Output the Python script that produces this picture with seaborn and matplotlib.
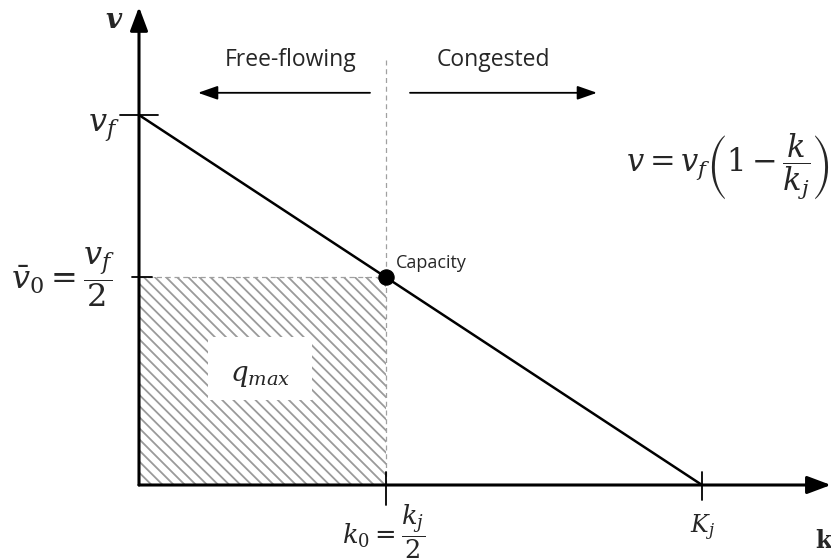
"""Greenshields speed-density diagram with capacity point."""
import matplotlib.pyplot as plt
import matplotlib.patches as mpatches
import numpy as np
import pandas as pd
import seaborn as sns

# speed-density line (normalised: k / K_j, v / v_f)
k_line = [0.0, 1.0]
v_line = [1.0, 0.0]
# capacity point
cap_k = [0.439]
cap_v = [0.561]
region_labels = ["Free-flowing", "Congested"]

sns.set_theme(style="white")
plt.rcParams["mathtext.fontset"] = "dejavuserif"
plt.rcParams["hatch.linewidth"] = 1.3
plt.rcParams["hatch.color"] = "#9a9a9a"

fig = plt.figure(figsize=(8.31, 5.6), dpi=100)
ax = fig.add_axes([0, 0, 1, 1])
px, py = 563.0, 370.0  # pixels per data unit
ax.set_xlim(-139 / px, (831 - 139) / px)
ax.set_ylim(-(560 - 485) / py, 485 / py)
ax.axis("off")

k0, v0 = cap_k[0], cap_v[0]
head = "-|>,head_width=0.45,head_length=1.2"

# hatched q_max box
ax.add_patch(mpatches.Rectangle((0, 0), k0, v0, facecolor="white",
                                edgecolor="#9a9a9a", hatch="\\\\\\", lw=0))
ax.add_patch(mpatches.Rectangle((0.122, 0.23), 0.186, 0.17,
                                facecolor="white", edgecolor="none", zorder=2))
ax.text(0.215, 0.297, r"$q_{max}$", ha="center", va="center", fontsize=20,
        zorder=3)

# dashed guides
ax.plot([k0, k0], [0, 1.157], ls=(0, (4, 3)), color="#a0a0a0", lw=0.9)
ax.plot([0, k0], [v0, v0], ls=(0, (4, 3)), color="#a0a0a0", lw=0.9)

# axes with arrows
ax.annotate("", xy=(0, 1.292), xytext=(0, 0), annotation_clip=False,
            arrowprops=dict(arrowstyle=head, color="black", lw=2.2,
                            shrinkA=0, shrinkB=0))
ax.annotate("", xy=(1.229, 0), xytext=(0, 0), annotation_clip=False,
            arrowprops=dict(arrowstyle=head, color="black", lw=2.2,
                            shrinkA=0, shrinkB=0))

# speed-density relation
df = pd.DataFrame({"k": k_line, "v": v_line})
sns.lineplot(data=df, x="k", y="v", color="black", lw=1.8, ax=ax)
sns.scatterplot(x=cap_k, y=cap_v, color="black", s=120, zorder=5, ax=ax,
                edgecolor="black")
ax.text(k0 + 0.018, v0 + 0.04, "Capacity", fontsize=13, family="Open Sans",
        ha="left", va="center")

# ticks
ax.plot([-19 / px, 19 / px], [1, 1], color="black", lw=1.3)
ax.plot([-7 / px, 13 / px], [v0, v0], color="black", lw=1.3)
ax.plot([k0, k0], [-20 / py, 13 / py], color="black", lw=1.3)
ax.plot([1, 1], [-15 / py, 13 / py], color="black", lw=1.3)

# labels
ax.text(-0.035, 0.965, r"$v_f$", ha="right", va="center", fontsize=23)
ax.text(-0.043, v0, r"$\bar{v}_0 = \dfrac{v_f}{2}$", ha="right",
        va="center", fontsize=23)
ax.text(k0 - 0.005, -0.127, r"$k_0 = \dfrac{k_j}{2}$", ha="center",
        va="center", fontsize=18.5)
ax.text(1.0, -0.115, r"$K_j$", ha="center", va="center", fontsize=17)
ax.text(-0.046, 1.255, "v", ha="center", va="center", fontsize=20,
        family="DejaVu Serif", style="italic", weight="bold")
ax.text(1.215, -0.15, "k", ha="center", va="center", fontsize=17,
        family="DejaVu Serif", weight="bold")
ax.text(1.226, 0.86, r"$v = v_f\left(1-\dfrac{k}{k_j}\right)$", ha="right",
        va="center", fontsize=22)

# regime arrows
arrow = "-|>,head_width=0.35,head_length=1.0"
ax.annotate("", xy=(59 / px, 1.06), xytext=(231 / px, 1.06),
            arrowprops=dict(arrowstyle=arrow, color="black", lw=1.3,
                            shrinkA=0, shrinkB=0))
ax.annotate("", xy=(458 / px, 1.06), xytext=(271 / px, 1.06),
            arrowprops=dict(arrowstyle=arrow, color="black", lw=1.3,
                            shrinkA=0, shrinkB=0))
ax.text(152 / px, 1.148, region_labels[0], ha="center", va="center",
        fontsize=16.5, family="Open Sans")
ax.text(354 / px, 1.148, region_labels[1], ha="center", va="center",
        fontsize=16.5, family="Open Sans")

fig.savefig("out.png", dpi=100)
